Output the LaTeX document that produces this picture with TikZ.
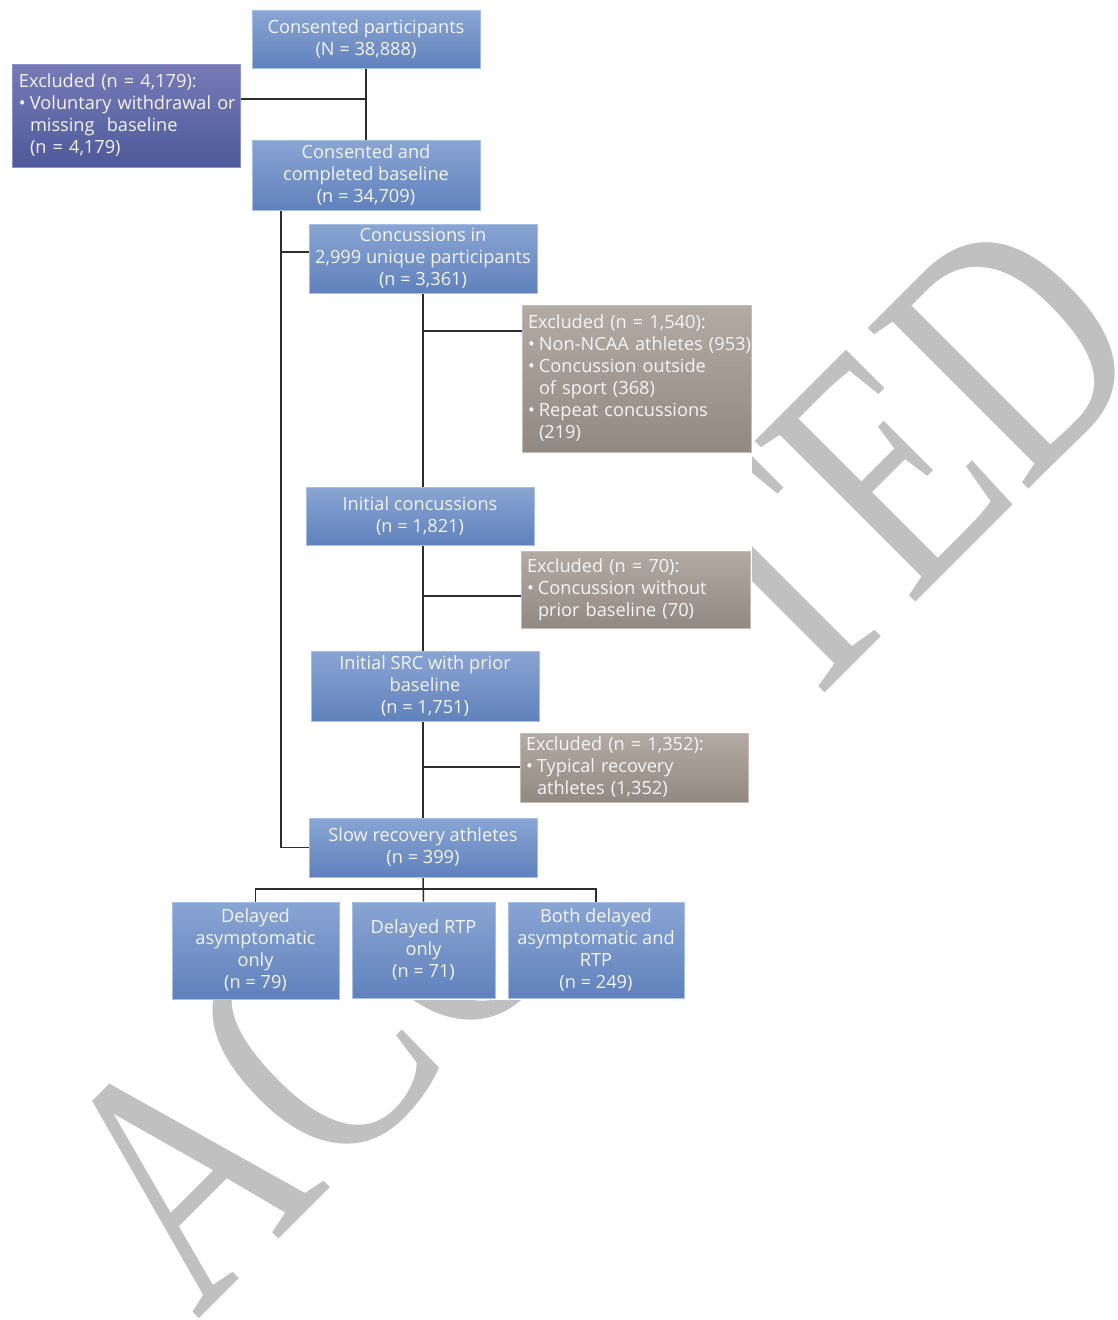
\documentclass[tikz,border=0pt]{standalone}
\usepackage{fontspec}
\setmainfont{Open Sans}
\newfontfamily\wmfont{Liberation Serif}
\pgfdeclarelayer{wm}
\pgfdeclarelayer{lines}
\pgfsetlayers{wm,lines,main}
\definecolor{btop}{RGB}{137,165,211}
\definecolor{bbot}{RGB}{95,129,188}
\definecolor{bborder}{RGB}{165,190,228}
\definecolor{ptop}{RGB}{118,123,182}
\definecolor{pbot}{RGB}{78,89,155}
\definecolor{pborder}{RGB}{140,145,200}
\definecolor{gtop}{RGB}{180,170,164}
\definecolor{gbot}{RGB}{146,137,131}
\definecolor{gborder}{RGB}{198,188,182}
\definecolor{wmgray}{RGB}{192,192,192}
\definecolor{linec}{RGB}{45,45,45}
\newcommand\bl[1]{\mbox{\makebox[11pt][l]{•}#1}}
\newcommand\ind[1]{\mbox{\hspace*{11pt}#1}}
\tikzset{
  boxtext/.style={text=white!96!black, font=\fontsize{18.2}{22}\selectfont, inner sep=0pt, line width=1pt},
  bluebox/.style={boxtext, draw=bborder, top color=btop, bottom color=bbot, align=center},
  purplebox/.style={boxtext, draw=pborder, top color=ptop, bottom color=pbot, align=left, inner xsep=7pt},
  graybox/.style={boxtext, draw=gborder, top color=gtop, bottom color=gbot, align=left, inner xsep=6pt},
  conn/.style={draw=linec, line width=1.5pt},
  watermark/.style={font={\wmfont\fontsize{263}{263}\selectfont}, text=wmgray, inner sep=0pt, anchor=base west, rotate=45, yscale=1.32}
}
\begin{document}
\begin{tikzpicture}[x=1pt,y=-1pt]
\useasboundingbox (0,0) rectangle (1117,1320);
\clip (0,0) rectangle (1117,1320);

\begin{pgfonlayer}{wm}
\fill[white] (0,0) rectangle (1117,1320);
\node[watermark] (wmk) at (197,1321) {ACCEPTED};
\end{pgfonlayer}

% boxes
\node[bluebox, minimum width=228pt, minimum height=58pt] (n1) at (366,39.5) {Consented participants\\(N = 38,888)};
\node[purplebox, minimum width=228pt, minimum height=103pt, text width=214pt] (n2) at (126,115.5) {\mbox{Excluded (n = 4,179):}\\\bl{Voluntary withdrawal or}\\\ind{missing\ \ baseline}\\\ind{(n = 4,179)}};
\node[bluebox, minimum width=228pt, minimum height=70pt] (n3) at (366,175) {Consented and\\completed baseline\\(n = 34,709)};
\node[bluebox, minimum width=228pt, minimum height=69pt] (n4) at (423,258.5) {Concussions in\\2,999 unique participants\\(n = 3,361)};
\node[graybox, minimum width=229pt, minimum height=147pt, text width=217pt] (n5) at (636.5,378.5) {\mbox{Excluded (n = 1,540):}\\\bl{Non-NCAA athletes (953)}\\\bl{Concussion outside}\\\ind{of sport (368)}\\\bl{Repeat concussions}\\\ind{(219)}};
\node[bluebox, minimum width=228pt, minimum height=58pt] (n6) at (420,516) {Initial concussions\\(n = 1,821)};
\node[graybox, minimum width=229pt, minimum height=77pt, text width=217pt] (n7) at (635.5,589.5) {\mbox{Excluded (n = 70):}\\\bl{Concussion without}\\\ind{prior baseline (70)}};
\node[bluebox, minimum width=228pt, minimum height=70pt] (n8) at (425,686) {Initial SRC with prior\\baseline\\(n = 1,751)};
\node[graybox, minimum width=228pt, minimum height=69pt, text width=216pt] (n9) at (634,767.5) {\mbox{Excluded (n = 1,352):}\\\bl{Typical recovery}\\\ind{athletes (1,352)}};
\node[bluebox, minimum width=228pt, minimum height=59pt] (n10) at (423,847.5) {Slow recovery athletes\\(n = 399)};
\node[bluebox, minimum width=167pt, minimum height=97pt] (n11) at (255.5,950.5) {Delayed\\asymptomatic\\only\\(n = 79)};
\node[bluebox, minimum width=143pt, minimum height=96pt] (n12) at (423.5,950) {Delayed RTP\\only\\(n = 71)};
\node[bluebox, minimum width=176pt, minimum height=96pt] (n13) at (596,950) {Both delayed\\asymptomatic and\\RTP\\(n = 249)};

% connectors
\begin{pgfonlayer}{lines}
\fill[white] (0,0) rectangle (752,1000);
\coordinate (j1) at (366,99);
\draw[conn] (n1.south) -- (n3.north);
\draw[conn] (n2.east |- j1) -- (j1);
\coordinate (t1) at (281,210);
\coordinate (t2) at (281,252);
\draw[conn] (t1) |- (n10.west);
\draw[conn] (t2) -- (n4.west |- t2);
\coordinate (b5) at (423,331);
\coordinate (b7) at (423,596);
\coordinate (b9) at (423,767);
\draw[conn] (n4.south) -- (n10.north);
\draw[conn] (b5) -- (n5.west |- b5);
\draw[conn] (b7) -- (n7.west |- b7);
\draw[conn] (b9) -- (n9.west |- b9);
\coordinate (bus) at (423,889);
\draw[conn] (n10.south) -- (n12.north);
\draw[conn] (n11.north) |- (bus) -| (n13.north);
\end{pgfonlayer}
\end{tikzpicture}
\end{document}
